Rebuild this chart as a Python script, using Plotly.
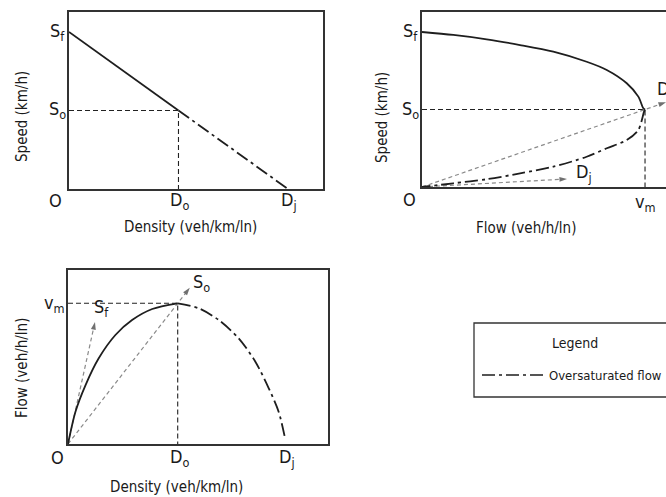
import plotly.graph_objects as go

W, H = 666, 497

# ---------------- data (normalised: Sf=100 km/h, Dj=100 veh/km/ln, vm=2500 veh/h/ln) ----------------
# Speed-density
sd_density_under = [0, 50]
sd_speed_under = [100, 50]
sd_density_over = [50, 100]
sd_speed_over = [50, 0]

# Speed-flow
sf_flow_under = [0, 351, 725, 1099, 1472, 1846, 2071, 2295, 2425, 2481, 2500]
sf_speed_under = [100, 98.1, 95.3, 91.6, 87.3, 80.8, 75.5, 66.9, 58.3, 50.8, 50]
sf_flow_over = [2500, 2489, 2425, 2295, 2071, 1846, 1472, 1099, 725, 351, 0]
sf_speed_over = [50, 48.6, 36.8, 30.3, 25.0, 19.5, 13.1, 8.8, 5.0, 2.4, 0]

# Flow-density
fd_density_under = [0, 3.4, 8.0, 14.0, 21.6, 29.2, 38.4, 50]
fd_flow_under = [0, 574, 1048, 1523, 1937, 2203, 2399, 2500]
fd_density_over = [50, 59.6, 68.7, 77.8, 85.4, 91.5, 96.0, 99.1]
fd_flow_over = [2500, 2411, 2203, 1878, 1462, 990, 574, 71]

# Key values
free_speed = 100
optimum_speed = 50
optimum_density = 50
jam_density = 100
max_flow = 2500

# Rays (arrows) drawn from the origin
ray_do_flow = [0, 2735]
ray_do_speed = [0, 54.7]
ray_dj_flow = [0, 1626]
ray_dj_speed = [0, 5.2]
ray_sf_density = [0, 12.3]
ray_sf_flow = [0, 2168]
ray_so_density = [0, 55.5]
ray_so_flow = [0, 2775]

# ---------------- styles ----------------
FONT = "DejaVu Sans Condensed, Liberation Sans Narrow, Arial Narrow, sans-serif"
TXT = "#1a1a1a"
CURVE = dict(color="#1e1e1e", width=1.8)
DASHDOT = "13px,4px,3px,4px"
REF = dict(color="#222222", width=1.1, dash="5px,3px")
RAY = dict(color="#8a8a8a", width=1.2, dash="4px,3px")


def px(x):
    return x / W


def py(y):
    return 1 - y / H


fig = go.Figure()


def add_curve(x, y, xa, ya, dash=None):
    line = dict(CURVE)
    if dash:
        line["dash"] = dash
    fig.add_trace(go.Scatter(x=x, y=y, mode="lines", line=dict(line, shape="spline", smoothing=0.8),
                             xaxis=xa, yaxis=ya, hoverinfo="skip", showlegend=False))


def add_ref(x, y, xa, ya):
    fig.add_trace(go.Scatter(x=x, y=y, mode="lines", line=REF, xaxis=xa, yaxis=ya,
                             hoverinfo="skip", showlegend=False))


def add_ray(x, y, xa, ya):
    fig.add_trace(go.Scatter(x=x, y=y, mode="lines+markers", line=RAY,
                             marker=dict(symbol="arrow", size=[0, 8], color="#333333",
                                         angleref="previous", line=dict(width=0)),
                             xaxis=xa, yaxis=ya, hoverinfo="skip", showlegend=False, cliponaxis=False))


# Panel 1: speed-density
add_ref([0, optimum_density, optimum_density], [optimum_speed, optimum_speed, 0], "x", "y")
add_curve(sd_density_under, sd_speed_under, "x", "y")
add_curve(sd_density_over, sd_speed_over, "x", "y", DASHDOT)

# Panel 2: speed-flow
add_ref([0, max_flow, max_flow], [optimum_speed, optimum_speed, 0], "x2", "y2")
add_ray(ray_do_flow, ray_do_speed, "x2", "y2")
add_ray(ray_dj_flow, ray_dj_speed, "x2", "y2")
add_curve(sf_flow_under, sf_speed_under, "x2", "y2")
add_curve(sf_flow_over, sf_speed_over, "x2", "y2", DASHDOT)

# Panel 3: flow-density
add_ref([0, optimum_density, optimum_density], [max_flow, max_flow, 0], "x3", "y3")
add_ray(ray_sf_density, ray_sf_flow, "x3", "y3")
add_ray(ray_so_density, ray_so_flow, "x3", "y3")
add_curve(fd_density_under, fd_flow_under, "x3", "y3")
add_curve(fd_density_over, fd_flow_over, "x3", "y3", DASHDOT)

AX = dict(showgrid=False, zeroline=False, showticklabels=False, ticks="",
          showline=True, linecolor="#333333", linewidth=1.5, fixedrange=True)

fig.update_layout(
    width=W, height=H,
    margin=dict(l=0, r=0, t=0, b=0),
    paper_bgcolor="white", plot_bgcolor="white",
    font=dict(family=FONT, color=TXT, size=15),
    xaxis=dict(AX, domain=[px(69), px(323)], range=[0, 116.0], mirror=True, anchor="y"),
    yaxis=dict(AX, domain=[py(189), py(12)], range=[0, 112.7], mirror=True, anchor="x"),
    xaxis2=dict(AX, domain=[px(422), 1.0], range=[0, 2735], mirror=True, anchor="y2"),
    yaxis2=dict(AX, domain=[py(187), py(12)], range=[0, 112.9], mirror=False, anchor="x2"),
    xaxis3=dict(AX, domain=[px(68), px(328)], range=[0, 118.5], mirror=True, anchor="y3"),
    yaxis3=dict(AX, domain=[py(444), py(270)], range=[0, 3092], mirror=True, anchor="x3"),
)

ann = []


def label(text, x, y, size=18, xanchor="center", angle=0):
    ann.append(dict(text=text, x=px(x), y=py(y), xref="paper", yref="paper", showarrow=False,
                    xanchor=xanchor, yanchor="middle", textangle=angle, borderpad=0,
                    font=dict(size=size, family=FONT, color=TXT)))


# Panel 1 labels
label("S<sub>f</sub>", 57, 32)
label("S<sub>o</sub>", 57, 110)
label("O", 55, 200)
label("D<sub>o</sub>", 179, 201)
label("D<sub>j</sub>", 289, 201)
label("Density (veh/km/ln)", 190, 227, 15)
label("Speed (km/h)", 22, 117, 15, angle=-90)

# Panel 2 labels
label("S<sub>f</sub>", 410, 32)
label("S<sub>o</sub>", 410, 110)
label("O", 409, 199)
label("v<sub>m</sub>", 645, 203)
label("D<sub>j</sub>", 584, 173)
label("D<sub>o</sub>", 656, 90, xanchor="left")
label("Flow (veh/h/ln)", 526, 228, 15)
label("Speed (km/h)", 382, 117, 15, angle=-90)

# Panel 3 labels
label("v<sub>m</sub>", 54, 304)
label("S<sub>f</sub>", 101, 308)
label("S<sub>o</sub>", 201, 283)
label("O", 57, 457)
label("D<sub>o</sub>", 179, 458)
label("D<sub>j</sub>", 287, 458)
label("Density (veh/km/ln)", 176, 487, 15)
label("Flow (veh/h/ln)", 22, 368, 15, angle=-90)

# Legend box
label("Legend", 575, 343, 14)
label("Oversaturated flow", 548, 375, 13, xanchor="left")

fig.update_layout(annotations=ann, shapes=[
    dict(type="rect", xref="paper", yref="paper", x0=px(474), x1=1.05, y0=py(397), y1=py(323),
         line=dict(color="#333333", width=1.3)),
    dict(type="line", xref="paper", yref="paper", x0=px(482), x1=px(545), y0=py(375), y1=py(375),
         line=dict(color="#1e1e1e", width=1.5, dash=DASHDOT)),
])

fig.write_html("out.html", config={"displayModeBar": False},
               post_script="document.body.style.margin='0';document.body.style.overflow='hidden';")
